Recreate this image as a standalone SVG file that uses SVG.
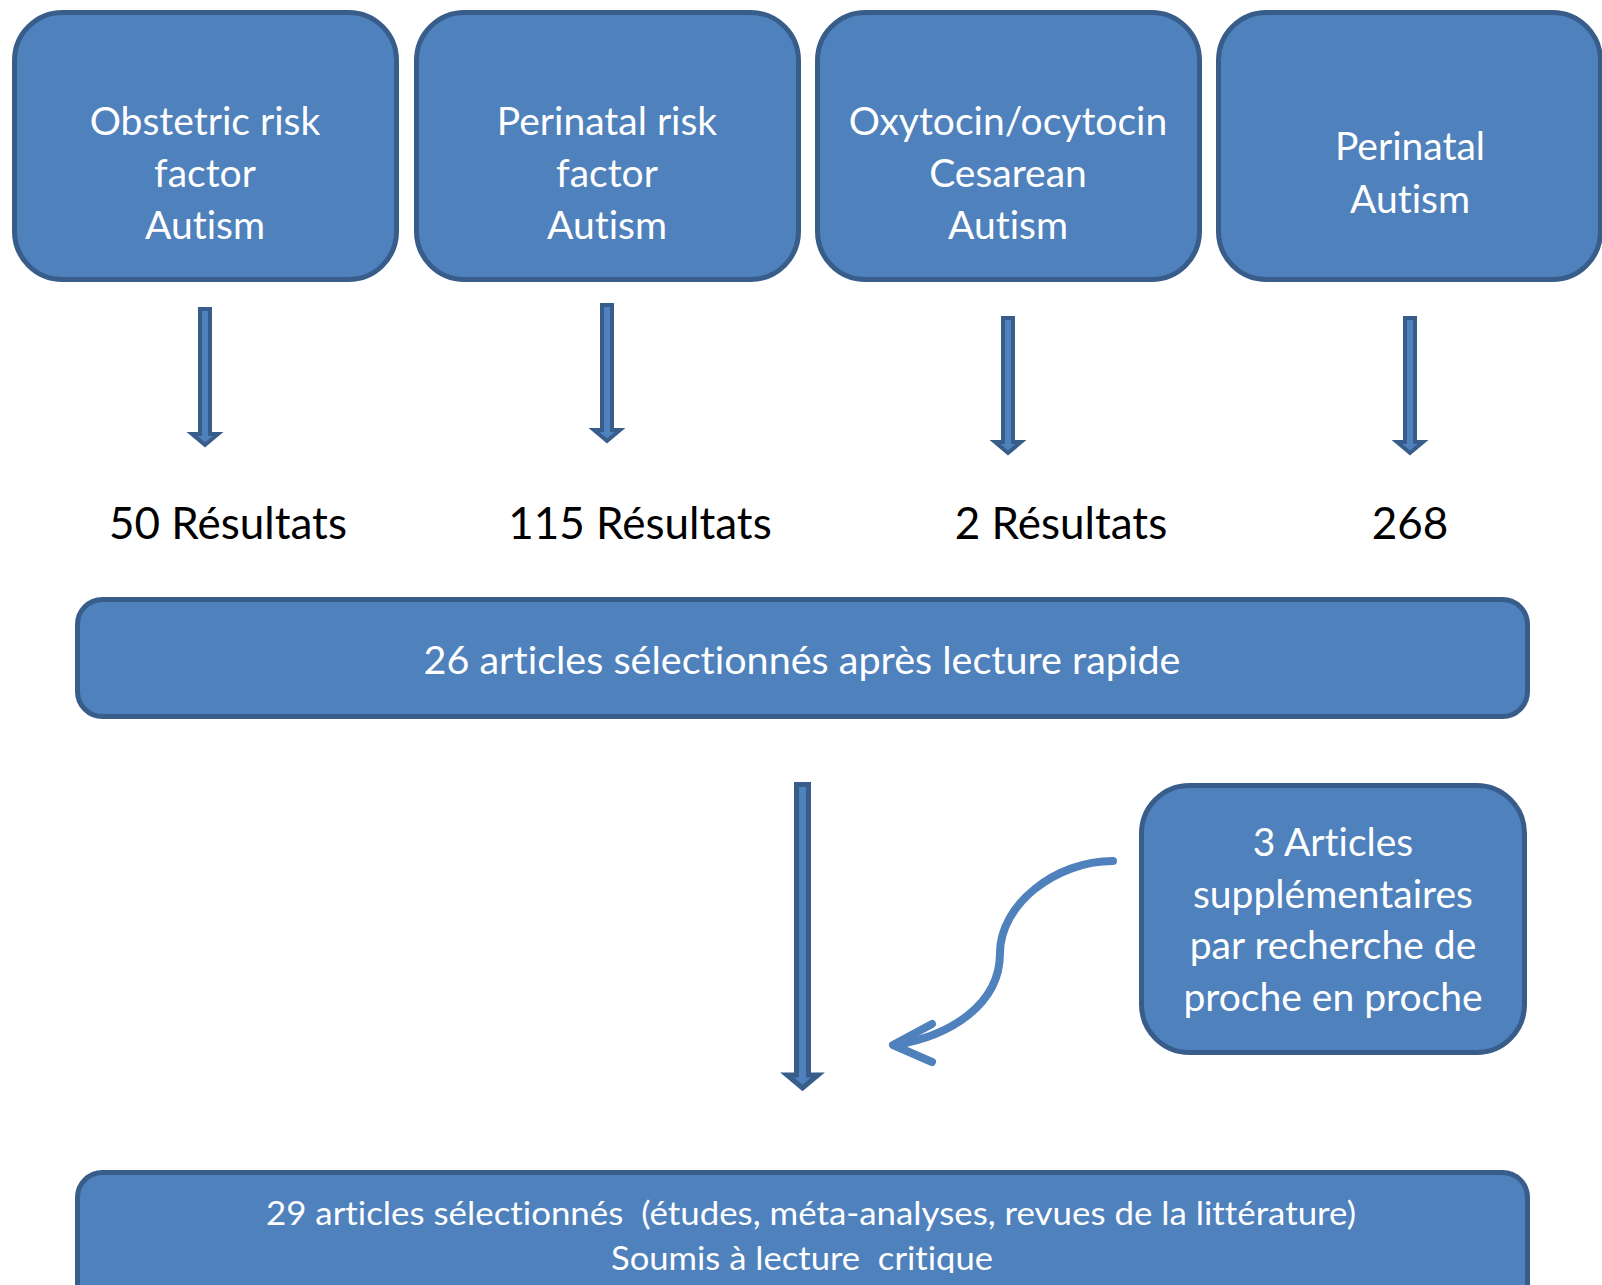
<svg xmlns="http://www.w3.org/2000/svg" width="1602" height="1285" viewBox="0 0 1602 1285">
  <style>
    text { font-variant-ligatures: none; font-feature-settings: "liga" 0, "clig" 0, "dlig" 0, "calt" 0; letter-spacing: 0.01px; }
    .box { fill: #4F81BD; stroke: #385D8A; stroke-width: 5; }
    .wt { fill: #FFFFFF; font-family: Lato, "Open Sans", sans-serif; text-anchor: middle; }
    .big { font-size: 39px; }
    .res { fill: #000000; font-family: Lato, "Open Sans", sans-serif; font-size: 44px; text-anchor: middle; }
    .arr { fill: #4F81BD; stroke: #385D8A; stroke-width: 4; stroke-linejoin: miter; }
    .curve { fill: none; stroke: #4F81BD; stroke-width: 8; stroke-linecap: round; stroke-linejoin: round; }
  </style>
  <defs>
    <clipPath id="clipBottom"><rect x="0" y="0" width="1602" height="1273"/></clipPath>
  </defs>
  <rect width="1602" height="1285" fill="#FFFFFF"/>

  <g id="node-obstetric">
    <rect class="box" x="14.5" y="12.5" width="382" height="267" rx="48" ry="48"/>
    <text class="wt big" x="205" y="135">Obstetric risk</text>
    <text class="wt big" x="205" y="187">factor</text>
    <text class="wt big" x="205" y="239">Autism</text>
  </g>
  <g id="node-perinatal-risk">
    <rect class="box" x="416.5" y="12.5" width="382" height="267" rx="48" ry="48"/>
    <text class="wt big" x="607" y="135">Perinatal risk</text>
    <text class="wt big" x="607" y="187">factor</text>
    <text class="wt big" x="607" y="239">Autism</text>
  </g>
  <g id="node-oxytocin">
    <rect class="box" x="817.5" y="12.5" width="382" height="267" rx="48" ry="48"/>
    <text class="wt big" x="1008" y="135">Oxytocin/ocytocin</text>
    <text class="wt big" x="1008" y="187">Cesarean</text>
    <text class="wt big" x="1008" y="239">Autism</text>
  </g>
  <g id="node-perinatal">
    <rect class="box" x="1218.5" y="12.5" width="382" height="267" rx="48" ry="48"/>
    <text class="wt big" x="1410" y="160">Perinatal</text>
    <text class="wt big" x="1410" y="213">Autism</text>
  </g>

  <g id="node-res-50"><text class="res" x="228" y="539">50 Résultats</text></g>
  <g id="node-res-115"><text class="res" x="640" y="539">115 Résultats</text></g>
  <g id="node-res-2"><text class="res" x="1061" y="539">2 Résultats</text></g>
  <g id="node-res-268"><text class="res" x="1410" y="539">268</text></g>

  <g id="node-26-articles">
    <rect class="box" x="77.5" y="599.5" width="1450" height="117" rx="25" ry="25"/>
    <text class="wt" x="802" y="674" font-size="39.5">26 articles sélectionnés après lecture rapide</text>
  </g>

  <g id="node-3-articles">
    <rect class="box" x="1141.5" y="785.5" width="383" height="267" rx="48" ry="48"/>
    <text class="wt big" x="1333" y="856">3 Articles</text>
    <text class="wt big" x="1333" y="908">supplémentaires</text>
    <text class="wt big" x="1333" y="959">par recherche de</text>
    <text class="wt big" x="1333" y="1011">proche en proche</text>
  </g>

  <g id="node-29-articles">
    <rect class="box" x="77.5" y="1172.5" width="1450" height="160" rx="25" ry="25"/>
    <g clip-path="url(#clipBottom)">
      <text class="wt" x="811" y="1225" font-size="32" textLength="1090" lengthAdjust="spacingAndGlyphs" xml:space="preserve">29 articles sélectionnés  (études, méta-analyses, revues de la littérature)</text>
      <text class="wt" x="802" y="1270" font-size="32" textLength="382" lengthAdjust="spacingAndGlyphs" xml:space="preserve">Soumis à lecture  critique</text>
    </g>
  </g>

  <g id="connectors">
    <path class="arr" d="M200,309 H210 V434 H218 L205,445 L192,434 H200 Z"/>
    <path class="arr" d="M602,305 H612 V430 H620 L607,441 L594,430 H602 Z"/>
    <path class="arr" d="M1003,318 H1013 V442 H1021 L1008,453 L995,442 H1003 Z"/>
    <path class="arr" d="M1405,318 H1415 V442 H1423 L1410,453 L1397,442 H1405 Z"/>
    <path class="arr" style="stroke-width:5" d="M796.5,784.5 H808.5 V1075 H818 L802.5,1088 L787,1075 H796.5 Z"/>
    <path class="curve" d="M1113,861 C1055,861 1000,905 1000,953 C1000,1005 950,1036 895,1045"/>
    <path class="curve" d="M932,1024 L893,1045 L932,1062"/>
  </g>
</svg>
